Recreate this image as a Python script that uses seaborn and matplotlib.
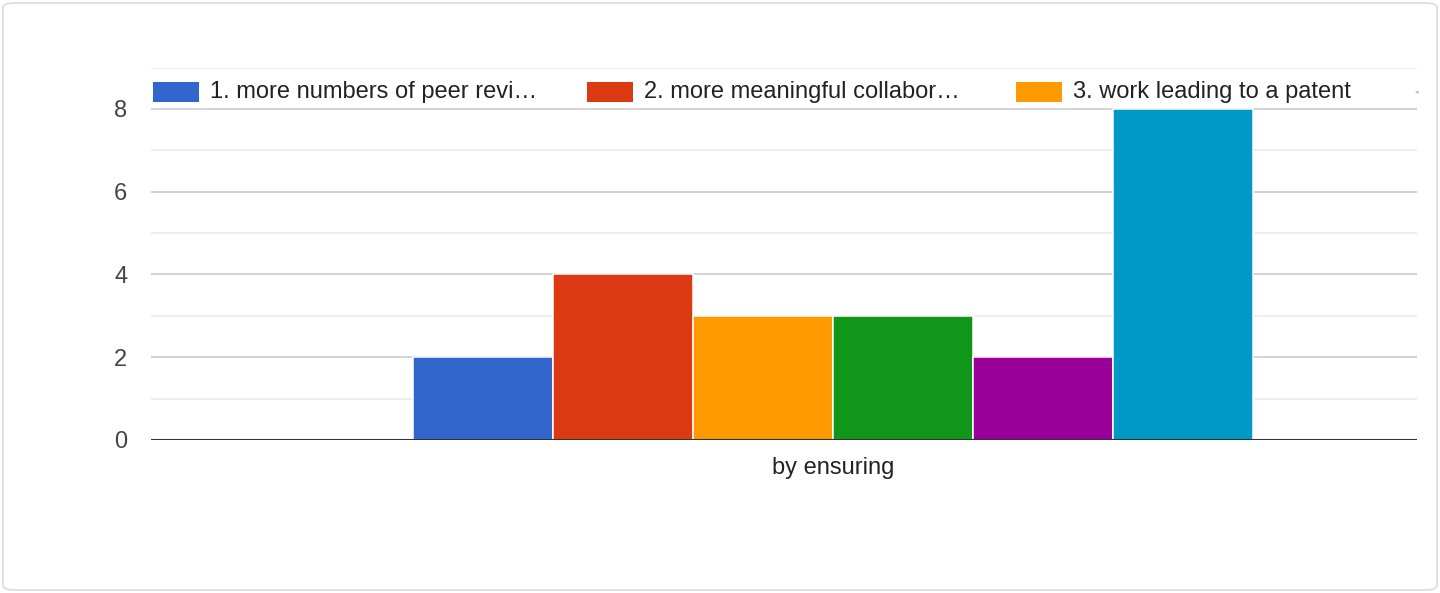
import numpy as np
import pandas as pd
import matplotlib
matplotlib.use("Agg")
import matplotlib.pyplot as plt
import seaborn as sns
from matplotlib.patches import FancyBboxPatch, Rectangle

# ---------- data ----------
category = ["by ensuring"]
series = [
    "1. more numbers of peer revi\u2026",
    "2. more meaningful collabor\u2026",
    "3. work leading to a patent",
    "4. more funded projects",
    "5. more industry links",
    "6. all of the above",
]
counts = [2, 4, 3, 3, 2, 8]
colors = ["#3366cc", "#dc3912", "#ff9900", "#109618", "#990099", "#0099c6"]

df = pd.DataFrame({"group": category * len(series), "option": series, "count": counts})

sns.set_theme(style="white")
plt.rcParams["font.family"] = ["Liberation Sans", "DejaVu Sans"]
FS = 17

fig = plt.figure(figsize=(14.4, 5.93), dpi=100)
ax = fig.add_axes([151 / 1440, 1 - 440 / 593, (1417 - 151) / 1440, (440 - 67.6) / 593])

sns.barplot(data=df, x="group", y="count", hue="option", palette=colors, saturation=1,
            width=0.8, edgecolor="white", linewidth=1.1, legend=False, ax=ax, zorder=3)

ax.set_ylim(0, 9)
ax.set_xlim(-0.65, 0.556)
ax.set_yticks([0, 2, 4, 6, 8])
ax.set_yticks([1, 3, 5, 7, 9], minor=True)
ax.grid(axis="y", which="major", color="#cccccc", lw=1.2, zorder=0)
ax.grid(axis="y", which="minor", color="#ebebeb", lw=1.2, zorder=0)
ax.axhline(0, color="#333333", lw=2.2, zorder=4)
for s in ax.spines.values():
    s.set_visible(False)
ax.tick_params(axis="y", which="both", length=0, pad=17, labelsize=FS, labelcolor="#444444")
ax.tick_params(axis="x", length=0, pad=12, labelsize=FS, labelcolor="#222222")
ax.set_xticks([0])
ax.set_xticklabels(category)
ax.set_xlabel("")
ax.set_ylabel("")

# legend row drawn across the top (first page only, like the source)
ax.add_patch(Rectangle((0, (440 - 104) / 372.4), 1, 0.07, transform=ax.transAxes,
                       facecolor="white", edgecolor="none", zorder=5, clip_on=False))
leg_y = (440 - 92) / 372.4
for i, x0 in enumerate([153, 587, 1016]):
    ax.add_patch(Rectangle(((x0 - 151) / 1266, leg_y - 10 / 372.4), 46 / 1266, 20 / 372.4,
                           transform=ax.transAxes, facecolor=colors[i], edgecolor="none",
                           zorder=6, clip_on=False))
    ax.text((x0 + 57 - 151) / 1266, leg_y, series[i], transform=ax.transAxes,
            ha="left", va="center", fontsize=FS, color="#222222", zorder=6)
ax.text(1.0, leg_y, "\u25c2", transform=ax.transAxes, ha="center", va="center",
        fontsize=5, color="#bbbbbb", zorder=6, family=["DejaVu Sans"])

# card border
fig.patches.append(FancyBboxPatch((3 / 1440, 3 / 593), 1434 / 1440, 587 / 593,
                                  boxstyle="round,pad=0,rounding_size=0.008",
                                  transform=fig.transFigure, facecolor="none",
                                  edgecolor="#dadce0", lw=1.2))

fig.savefig("out.png", dpi=100)
